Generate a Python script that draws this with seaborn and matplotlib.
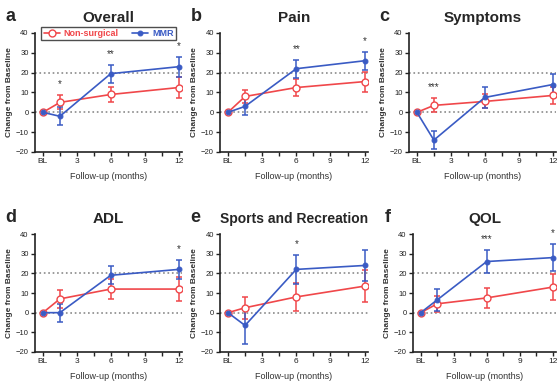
import numpy as np
import matplotlib.pyplot as plt
import seaborn as sns
import pandas as pd

# Datos (cambio desde basal)
months = [0, 1.5, 6, 12]
panel_letters = ["a", "b", "c", "d", "e", "f"]
titles = ["Overall", "Pain", "Symptoms", "ADL", "Sports and Recreation", "QOL"]

nonsurg_mean = [
    [0, 5, 9, 12.5],
    [0, 8, 12.5, 15.5],
    [0, 3.5, 5.5, 8.5],
    [0, 7, 12, 12],
    [0, 2.5, 8, 13.5],
    [0, 4.5, 7.5, 13],
]
nonsurg_err = [
    [0, 3.5, 4, 5.5],
    [0, 3.5, 4.5, 5],
    [0, 3.5, 3.5, 4.5],
    [0, 4.5, 5, 6],
    [0, 5.5, 7, 8],
    [0, 4, 5, 6.5],
]
mmr_mean = [
    [0, -2, 19.5, 23],
    [0, 3, 22, 26],
    [0, -14, 7.5, 14],
    [0, 0, 19, 22],
    [0, -6.5, 22, 24],
    [0, 6.5, 26, 28],
]
mmr_err = [
    [0, 4.5, 4.5, 5],
    [0, 4.5, 4.5, 4.5],
    [0, 4.5, 5.5, 5.5],
    [0, 4.5, 4.5, 5],
    [0, 9.5, 7.5, 8],
    [0, 5.5, 6, 7],
]
# (panel, mes, texto)
stars = [
    (0, 1.5, "*"), (0, 6, "**"), (0, 12, "*"),
    (1, 6, "**"), (1, 12, "*"),
    (2, 1.5, "***"),
    (3, 12, "*"),
    (4, 6, "*"),
    (5, 6, "***"), (5, 12, "*"),
]

red = "#f0474a"
blue = "#3a5bc4"

sns.set_style("ticks")
plt.rcParams["font.family"] = ["Liberation Sans", "DejaVu Sans"]

W, H = 559, 390
fig = plt.figure(figsize=(W / 100, H / 100), dpi=100)

# posiciones de los ejes en pixeles (izq, der, arriba, abajo)
boxes = [
    (35, 182, 33, 152),
    (220, 368, 33, 152),
    (409, 556, 33, 152),
    (35, 182, 234, 352),
    (220, 368, 234, 352),
    (413, 556, 234, 352),
]

for i in range(6):
    l, r, t, b = boxes[i]
    ax = fig.add_axes([l / W, 1 - b / H, (r - l) / W, (b - t) / H])

    ax.axhline(0, color="#8a8a8a", ls=":", lw=1.2, zorder=0)
    ax.axhline(20, color="#8a8a8a", ls=":", lw=1.2, zorder=0)

    df_ns = pd.DataFrame({"month": months, "change": nonsurg_mean[i]})
    df_m = pd.DataFrame({"month": months, "change": mmr_mean[i]})

    ax.errorbar(months, nonsurg_mean[i], yerr=nonsurg_err[i], fmt="none",
                ecolor=red, elinewidth=1.1, capsize=2.5, capthick=1.1)
    ax.errorbar(months, mmr_mean[i], yerr=mmr_err[i], fmt="none",
                ecolor=blue, elinewidth=1.1, capsize=2.5, capthick=1.1)
    sns.lineplot(data=df_ns, x="month", y="change", ax=ax, color=red, lw=1.2,
                 marker="o", markersize=5, markerfacecolor="white",
                 markeredgecolor=red, markeredgewidth=1, label="Non-surgical")
    sns.lineplot(data=df_m, x="month", y="change", ax=ax, color=blue, lw=1.2,
                 marker="o", markersize=3.5, markerfacecolor=blue,
                 markeredgecolor=blue, label="MMR")

    for p, m, s in stars:
        if p != i:
            continue
        k = months.index(m)
        top = max(mmr_mean[i][k] + mmr_err[i][k], nonsurg_mean[i][k] + nonsurg_err[i][k])
        ax.text(m, top + 3, s, ha="center", va="bottom", fontsize=7, color="#333333")

    ax.set_xlim(-0.7, 12.3)
    ax.set_ylim(-20, 40)
    ax.set_xticks([0, 3, 6, 9, 12])
    ax.set_xticklabels(["BL", "3", "6", "9", "12"])
    ax.set_xticks([1.5, 4.5, 7.5, 10.5], minor=True)
    ax.set_yticks([-20, -10, 0, 10, 20, 30, 40])
    ax.tick_params(axis="both", which="both", length=3, width=1, labelsize=5.5,
                   colors="#222222", pad=1.5)
    ax.tick_params(axis="x", labelsize=6)
    for sp in ["left", "bottom"]:
        ax.spines[sp].set_linewidth(1.2)
        ax.spines[sp].set_color("#222222")
    sns.despine(ax=ax)

    ax.set_xlabel("Follow-up (months)", fontsize=6.5, color="#333333", labelpad=5)
    ax.set_ylabel("Change from Baseline", fontsize=6, fontweight="bold",
                  color="#333333", labelpad=2)
    tsize = 10 if len(titles[i]) > 12 else 11
    ax.set_title(titles[i], fontsize=tsize, fontweight="bold", pad=8)
    ax.text(-0.2, 1.07, panel_letters[i], transform=ax.transAxes,
            fontsize=13, fontweight="bold", ha="left", va="bottom")

    if i == 0:
        leg = ax.legend(loc="upper center", bbox_to_anchor=(0.5, 1.09), ncol=2,
                        fontsize=6.5, frameon=True, fancybox=False,
                        handlelength=1.8, columnspacing=1.5, borderpad=0.25,
                        labelcolor="linecolor", handletextpad=0.4)
        leg.get_frame().set_edgecolor("#222222")
        leg.get_frame().set_linewidth(1)
        for t in leg.get_texts():
            t.set_fontweight("bold")
    else:
        ax.get_legend().remove()

fig.savefig("out.png", dpi=100)
